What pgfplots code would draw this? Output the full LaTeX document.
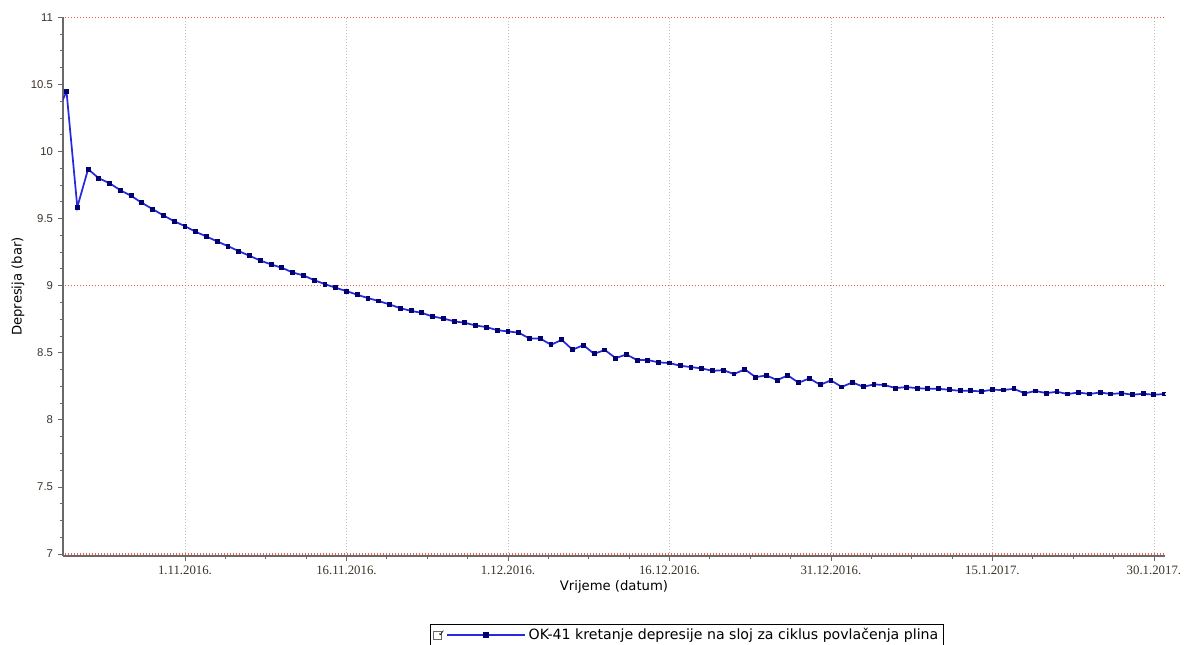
\documentclass[border=0pt]{standalone}
\usepackage{pgfplots}
\pgfplotsset{compat=1.18}
\usepackage{fontspec}
\setmainfont{DejaVu Sans}
\newfontfamily\lserif{Liberation Serif}
\newfontfamily\lsans{Liberation Sans}
\newfontfamily\dsans{DejaVu Sans}
\definecolor{lineblue}{RGB}{40,40,220}
\definecolor{markblue}{RGB}{0,0,110}
\definecolor{limred}{RGB}{245,85,85}
\definecolor{axgray}{RGB}{105,105,105}
\definecolor{gridgray}{RGB}{190,190,190}
\definecolor{txt}{RGB}{60,50,40}
\pgfplotstableread{
day val
-12 10.28
-11 10.444
-10 9.585
-9 9.868
-8 9.800
-7 9.763
-6 9.711
-5 9.669
-4 9.617
-3 9.570
-2 9.523
-1 9.480
0 9.443
1 9.401
2 9.366
3 9.329
4 9.294
5 9.257
6 9.222
7 9.187
8 9.158
9 9.133
10 9.098
11 9.076
12 9.041
13 9.011
14 8.984
15 8.959
16 8.932
17 8.907
18 8.885
19 8.860
20 8.832
21 8.812
22 8.797
23 8.770
24 8.755
25 8.734
26 8.723
27 8.703
28 8.691
29 8.668
30 8.659
31 8.649
32 8.606
33 8.606
34 8.559
35 8.596
36 8.522
37 8.557
38 8.492
39 8.520
40 8.460
41 8.487
42 8.445
43 8.445
44 8.428
45 8.423
46 8.403
47 8.393
48 8.383
49 8.365
50 8.370
51 8.341
52 8.376
53 8.318
54 8.331
55 8.296
56 8.331
57 8.276
58 8.309
59 8.261
60 8.294
61 8.245
62 8.279
63 8.246
64 8.264
65 8.259
66 8.236
67 8.244
68 8.236
69 8.231
70 8.231
71 8.224
72 8.216
73 8.216
74 8.212
75 8.224
76 8.222
77 8.231
78 8.197
79 8.215
80 8.199
81 8.209
82 8.192
83 8.204
84 8.192
85 8.204
86 8.192
87 8.199
88 8.187
89 8.194
90 8.187
91 8.192
}\depdata
\begin{document}
\begin{tikzpicture}
\useasboundingbox (-47.25pt,-66pt) rectangle (844.5pt,417pt);
\begin{axis}[
  at={(0pt,0pt)}, anchor=south west,
  scale only axis, width=826.5pt, height=404.25pt,
  xmin=-11.33, xmax=91.03, ymin=6.985, ymax=11.002,
  axis x line*=bottom, axis y line*=left,
  axis line style={axgray, line width=1.5pt, -},
  xtick={0,15,...,90},
  xticklabels={1.11.2016., 16.11.2016., 1.12.2016., 16.12.2016., 31.12.2016., 15.1.2017., 30.1.2017.},
  minor x tick num=3,
  ytick={7,7.5,...,11},
  minor y tick num=3,
  tick align=outside,
  major tick length=4pt, minor tick length=2.5pt,
  tick style={axgray, line width=0.6pt},
  xmajorgrids,
  major grid style={gridgray, dash pattern=on 0.75pt off 1.5pt, line width=0.6pt},
  /pgf/number format/assume math mode=true,
  yticklabel style={font=\lsans\fontsize{8.5}{10}\selectfont, text=txt},
  xticklabel style={font=\lserif\fontsize{9.6}{11}\selectfont, text=txt},
  xlabel={Vrijeme (datum)},
  ylabel={Depresija (bar)},
  xlabel style={font=\dsans\fontsize{9.9}{11}\selectfont, at={(axis description cs:0.5,-0.0575)}, anchor=center},
  ylabel style={font=\dsans\fontsize{9.9}{11}\selectfont, at={(axis description cs:-0.0408,0.5)}, anchor=center},
  clip marker paths=true,
  legend style={at={(0.333,-0.1262)}, anchor=north west, draw=black, line width=0.6pt, fill=white,
    font=\dsans\fontsize{10.6}{12}\selectfont, inner xsep=2pt, inner ysep=1pt},
  legend cell align=left,
]
\addplot[draw=limred, line width=1pt, dash pattern=on 1.2pt off 1.05pt, forget plot] coordinates {(-12,7) (92,7)};
\addplot[draw=limred, line width=1pt, dash pattern=on 1.2pt off 1.05pt, forget plot] coordinates {(-12,9) (92,9)};
\addplot[draw=limred, line width=1pt, dash pattern=on 1.2pt off 1.05pt, forget plot] coordinates {(-12,10.997) (92,10.997)};
\addplot[lineblue, line width=1.3pt, mark=square*, mark size=1.45pt,
  mark options={markblue, fill=markblue, line width=0pt},
  legend image code/.code={
    \draw[axgray, line width=0.4pt, fill=white] (0pt,-3pt) rectangle (6pt,3pt);
    \node[inner sep=0pt, font=\dsans\fontsize{6.5}{6.5}\selectfont, text=black] at (3pt,0pt) {✓};
    \draw[lineblue, line width=1.1pt] (10.5pt,0pt) -- (69pt,0pt);
    \fill[markblue] (38.3pt,-1.4pt) rectangle (41.1pt,1.4pt);
  }] table[x=day, y=val] {\depdata};
\addlegendentry{OK-41 kretanje depresije na sloj za ciklus povlačenja plina}
\end{axis}
\end{tikzpicture}
\end{document}
